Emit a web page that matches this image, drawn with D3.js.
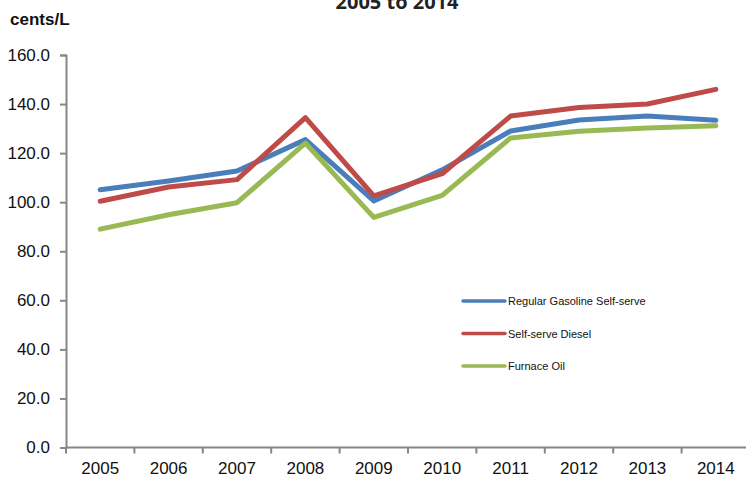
<!DOCTYPE html>
<html>
<head>
<meta charset="utf-8">
<script src="https://cdn.jsdelivr.net/npm/d3@7"></script>
<style>
  body { margin: 0; background: #fff; }
  svg { display: block; }
</style>
</head>
<body>
<div id="chart"></div>
<script>
"use strict";

// years on the x axis
var years = ["2005", "2006", "2007", "2008", "2009", "2010", "2011", "2012", "2013", "2014"];
// cents per litre
var gasoline = [105.1, 108.6, 112.7, 125.5, 100.5, 113.2, 129.0, 133.5, 135.1, 133.4];
var diesel   = [100.4, 106.2, 109.2, 134.5, 102.6, 111.6, 135.1, 138.6, 140.0, 146.0];
var furnace  = [89.0, 94.9, 99.8, 124.1, 93.8, 102.8, 126.2, 128.9, 130.2, 131.2];
var yTicks = [0, 20, 40, 60, 80, 100, 120, 140, 160];

var series = [
  {name: "Regular Gasoline Self-serve", values: gasoline, color: "#4a7ebb"},
  {name: "Self-serve Diesel", values: diesel, color: "#be4b48"},
  {name: "Furnace Oil", values: furnace, color: "#98b954"}
];

var W = 746, H = 478;
var margin = {top: 55, left: 66};
var plotW = 684, plotH = 392.5;

var svg = d3.select("#chart").append("svg")
    .attr("width", W)
    .attr("height", H)
    .style("font-family", "'Liberation Sans', Arial, sans-serif");

// title, cut off at the top like the source
svg.append("text")
    .attr("x", 397).attr("y", 9)
    .attr("text-anchor", "middle")
    .style("font-family", "'Open Sans', sans-serif")
    .style("font-weight", "bold")
    .style("font-size", "20px")
    .attr("fill", "#222")
    .text("2005 to 2014");

svg.append("text")
    .attr("x", 10).attr("y", 25)
    .style("font-weight", "bold")
    .style("font-size", "17px")
    .attr("fill", "#111")
    .text("cents/L");

var g = svg.append("g")
    .attr("transform", "translate(" + margin.left + "," + margin.top + ")");

var x = d3.scaleBand().domain(years).range([0, plotW]);
var y = d3.scaleLinear().domain([0, 160]).range([plotH, 0]);

// y axis
var yAxis = g.append("g")
    .call(d3.axisLeft(y).tickValues(yTicks).tickFormat(d3.format(".1f")).tickSize(6).tickPadding(10));
yAxis.select(".domain").attr("stroke", "#868686").attr("stroke-width", 2);
yAxis.selectAll(".tick line").attr("stroke", "#868686").attr("stroke-width", 2);
yAxis.selectAll(".tick text")
    .style("font-size", "17px")
    .style("font-family", "'Liberation Sans', Arial, sans-serif")
    .attr("fill", "#111");

// x axis: ticks between categories
var xAxis = g.append("g")
    .attr("transform", "translate(0," + plotH + ")")
    .call(d3.axisBottom(x).tickSize(0).tickPadding(14));
xAxis.select(".domain").remove();
xAxis.selectAll(".tick text")
    .style("font-size", "17px")
    .style("font-family", "'Liberation Sans', Arial, sans-serif")
    .attr("fill", "#111");

g.append("line")
    .attr("x1", 0).attr("x2", plotW)
    .attr("y1", plotH).attr("y2", plotH)
    .attr("stroke", "#868686").attr("stroke-width", 2);

g.selectAll(".xtick")
    .data(years)
    .enter().append("line")
    .attr("class", "xtick")
    .attr("x1", function(d) { return x(d); })
    .attr("x2", function(d) { return x(d); })
    .attr("y1", plotH).attr("y2", plotH + 6)
    .attr("stroke", "#868686").attr("stroke-width", 2);

// lines
var line = d3.line()
    .x(function(d, i) { return x(years[i]) + x.bandwidth() / 2; })
    .y(function(d) { return y(d); });

g.selectAll(".series")
    .data(series)
    .enter().append("path")
    .attr("class", "series")
    .attr("d", function(s) { return line(s.values); })
    .attr("fill", "none")
    .attr("stroke", function(s) { return s.color; })
    .attr("stroke-width", 5)
    .attr("stroke-linejoin", "round")
    .attr("stroke-linecap", "round");

// legend
var legend = svg.append("g")
    .attr("transform", "translate(463,301)");

var item = legend.selectAll(".item")
    .data(series)
    .enter().append("g")
    .attr("class", "item")
    .attr("transform", function(d, i) { return "translate(0," + (i * 32.5) + ")"; });

item.append("line")
    .attr("x1", 0).attr("x2", 42)
    .attr("y1", 0).attr("y2", 0)
    .attr("stroke", function(d) { return d.color; })
    .attr("stroke-width", 3.5)
    .attr("stroke-linecap", "round");

item.append("text")
    .attr("x", 45).attr("y", 4)
    .style("font-size", "11px")
    .attr("fill", "#111")
    .text(function(d) { return d.name; });
</script>
</body>
</html>
